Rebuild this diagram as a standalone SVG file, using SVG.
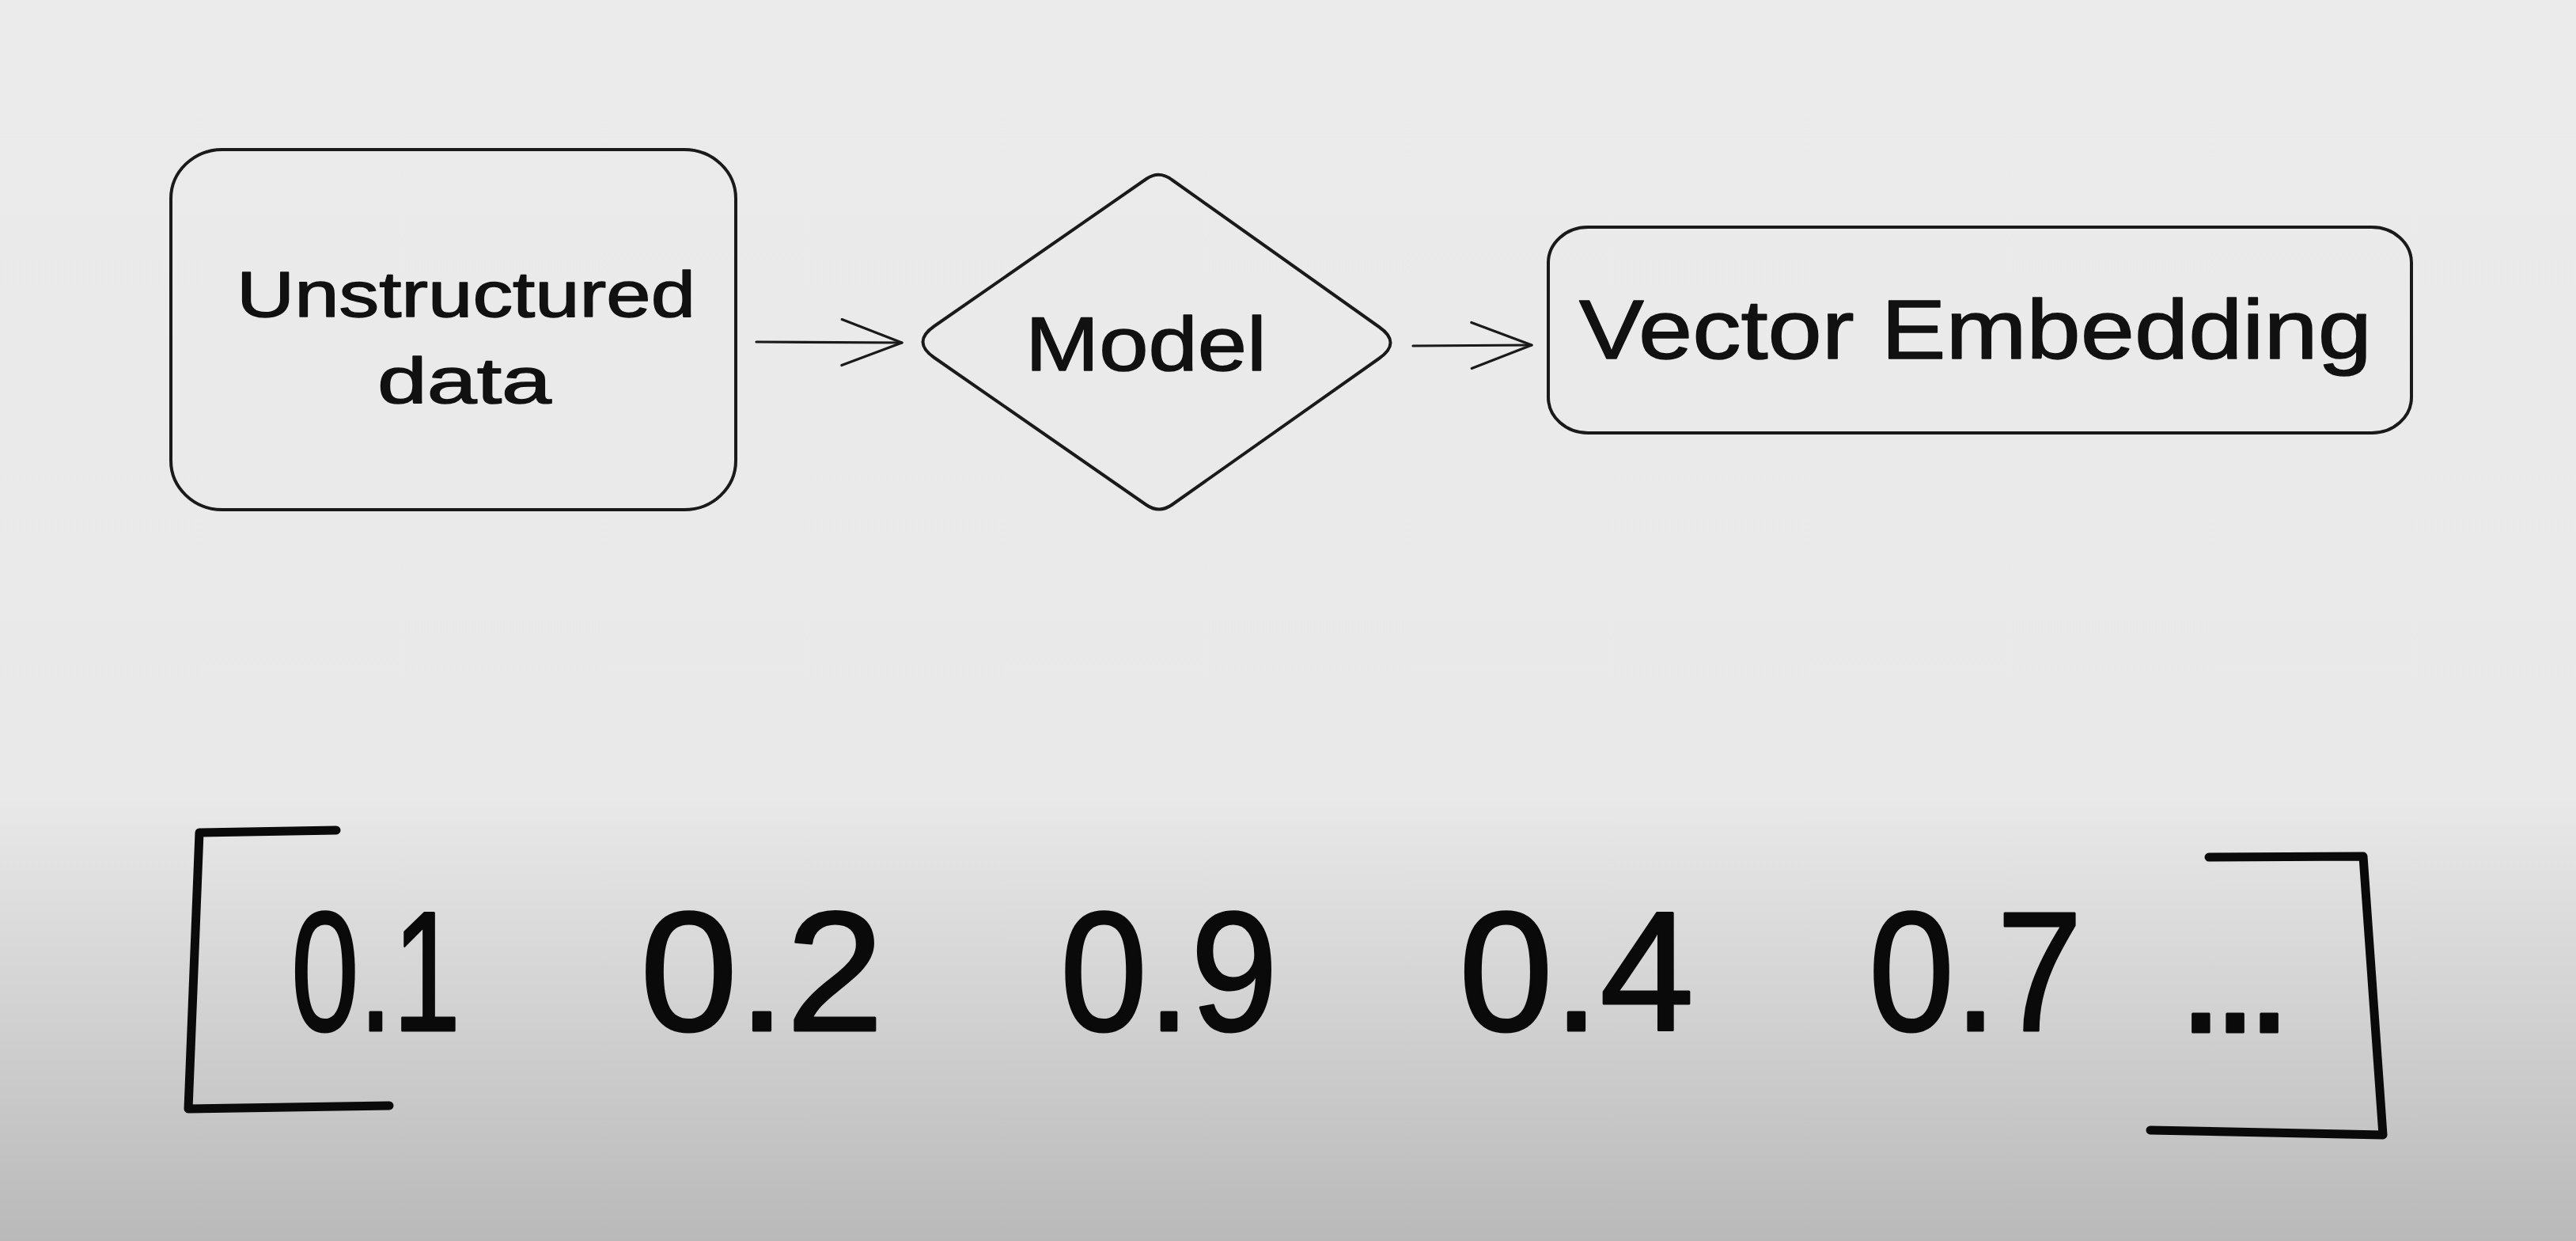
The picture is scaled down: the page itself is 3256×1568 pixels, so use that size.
<svg xmlns="http://www.w3.org/2000/svg" width="3256" height="1568" viewBox="0 0 3256 1568">
  <style>
    .shape { fill: none; stroke: #1a1a1a; stroke-width: 4; stroke-linejoin: round; }
    .conn { fill: none; stroke: #1a1a1a; stroke-width: 3.2; stroke-linecap: round; }
    .lbl { font-family: "Liberation Sans", Arial, sans-serif; fill: #111111; stroke: #111111; stroke-width: 1.5; stroke-linejoin: round; }
    .num { font-family: "Liberation Sans", Arial, sans-serif; fill: #0a0a0a; font-size: 215px; stroke: #0a0a0a; stroke-width: 3; stroke-linejoin: round; }
    .bracket { fill: none; stroke: #0a0a0a; stroke-width: 11; stroke-linecap: round; stroke-linejoin: round; }
  </style>
  <defs>
    <linearGradient id="bg" x1="0" y1="0" x2="0" y2="1">
      <stop offset="0" stop-color="#ebebeb"/>
      <stop offset="0.64" stop-color="#e9e9e9"/>
      <stop offset="1" stop-color="#b9b9b9"/>
    </linearGradient>
    <marker id="arrow" markerUnits="userSpaceOnUse" viewBox="-82 -36 88 72" markerWidth="88" markerHeight="72" refX="0" refY="0" orient="auto" overflow="visible">
      <path d="M -76,-29 L 0,0 L -76,29" fill="none" stroke="#1a1a1a" stroke-width="3.2" stroke-linecap="round" stroke-linejoin="round"/>
    </marker>
  </defs>

  <rect x="0" y="0" width="3256" height="1568" fill="url(#bg)"/>

  <g id="node-unstructured">
    <rect class="shape" x="216" y="189" width="714" height="455" rx="65" ry="62"/>
    <text class="lbl" x="299" y="400" font-size="82" textLength="580" lengthAdjust="spacingAndGlyphs">Unstructured</text>
    <text class="lbl" x="477" y="509" font-size="82" textLength="220" lengthAdjust="spacingAndGlyphs">data</text>
  </g>

  <g id="node-model">
    <path class="shape" d="M 1181,412 L 1449,226 Q 1465,215 1481,227 L 1743,413 Q 1772,433 1743,453 L 1481,638 Q 1465,649 1449,638 L 1181,452 Q 1152,432 1181,412 Z"/>
    <text class="lbl" x="1296" y="468" font-size="97" textLength="305" lengthAdjust="spacingAndGlyphs">Model</text>
  </g>

  <g id="node-vector">
    <rect class="shape" x="1957" y="287" width="1091" height="260" rx="50" ry="45"/>
    <text class="lbl" x="1996" y="453" font-size="105" textLength="1002" lengthAdjust="spacingAndGlyphs">Vector Embedding</text>
  </g>

  <g id="connectors">
    <line class="conn" x1="956" y1="432" x2="1140" y2="433" marker-end="url(#arrow)"/>
    <line class="conn" x1="1786" y1="437" x2="1936" y2="436" marker-end="url(#arrow)"/>
  </g>

  <g id="vector-values">
    <path class="bracket" d="M 425,1049 L 252,1052 L 238,1401 L 492,1397"/>
    <path class="bracket" d="M 2792,1083 L 2987,1082 L 3012,1434 L 2718,1428"/>
    <text class="num" x="368" y="1302" textLength="214" lengthAdjust="spacingAndGlyphs">0.1</text>
    <text class="num" x="809" y="1302" textLength="308" lengthAdjust="spacingAndGlyphs">0.2</text>
    <text class="num" x="1340" y="1302" textLength="275" lengthAdjust="spacingAndGlyphs">0.9</text>
    <text class="num" x="1844" y="1302" textLength="297" lengthAdjust="spacingAndGlyphs">0.4</text>
    <text class="num" x="2362" y="1302" textLength="270" lengthAdjust="spacingAndGlyphs">0.7</text>
    <text class="num" x="2752" y="1304" font-size="200" textLength="146" lengthAdjust="spacing" stroke-width="15">...</text>
  </g>
</svg>
